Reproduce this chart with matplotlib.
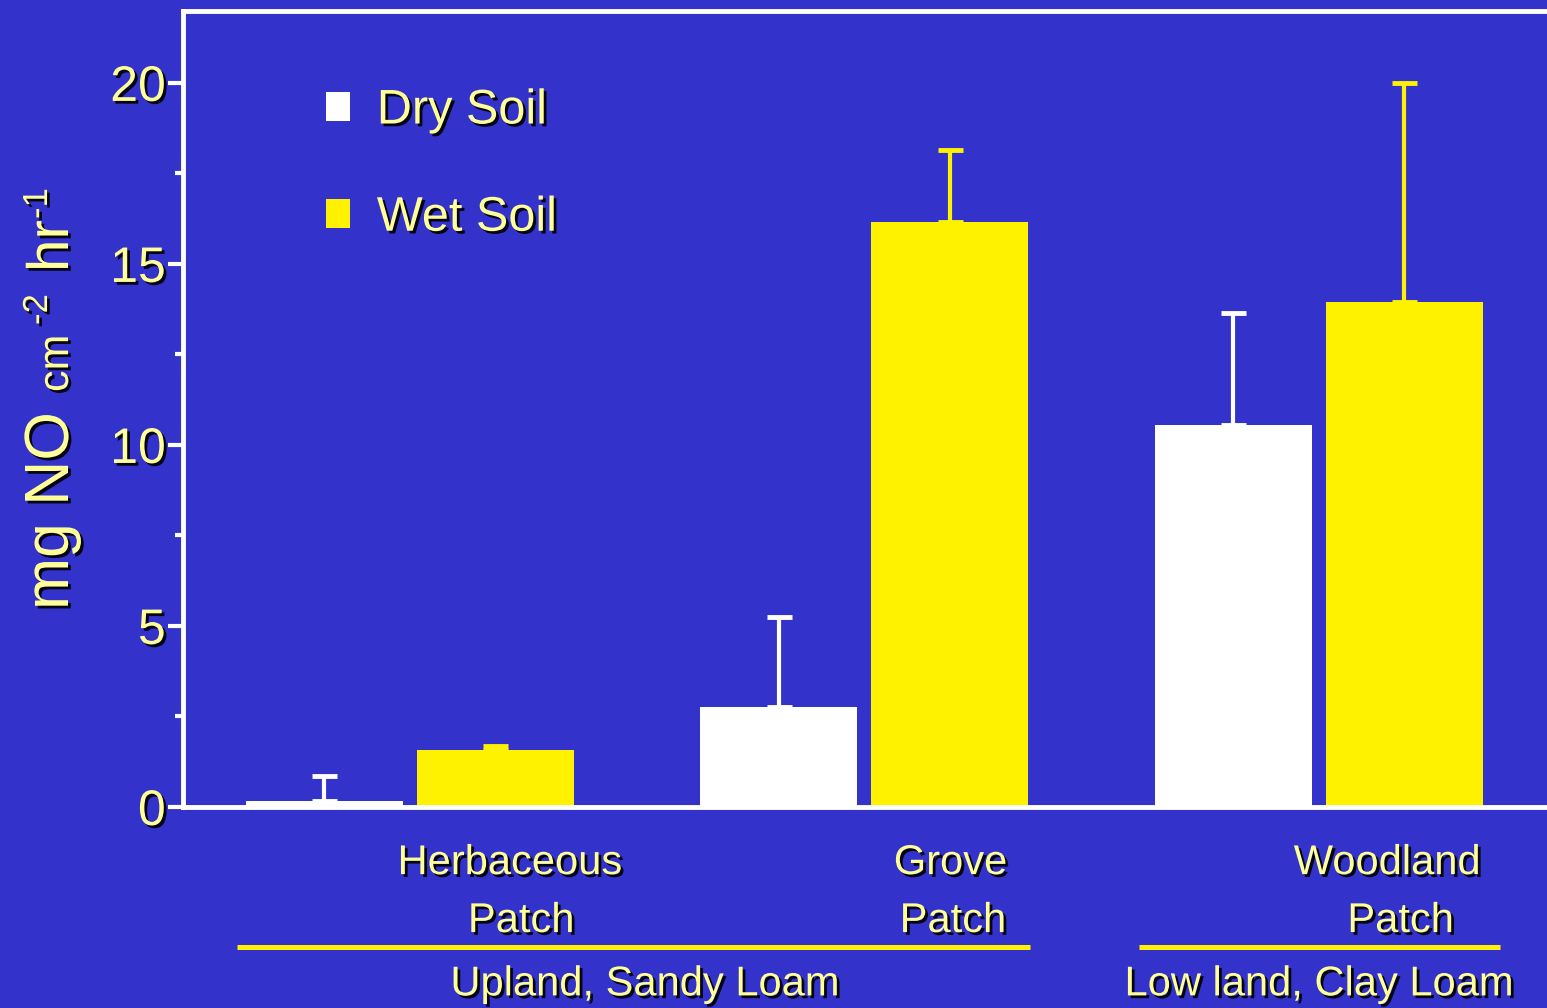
import matplotlib
matplotlib.use('Agg')
import matplotlib.pyplot as plt
import matplotlib.patheffects as pe
import numpy as np

plt.rcParams['font.family'] = ['Liberation Sans', 'DejaVu Sans']

# data
patches = ['Herbaceous\nPatch', 'Grove\nPatch', 'Woodland\nPatch']
dry = [0.17, 2.76, 10.55]
dry_err = [0.69, 2.49, 3.10]
wet = [1.57, 16.16, 13.95]
wet_err = [0.11, 1.99, 6.05]
regions = ['Upland, Sandy Loam', 'Low land, Clay Loam']

bg = '#3333cc'
txt = '#ffff99'
yel = '#fff200'
shadow = [pe.SimplePatchShadow(offset=(2, -2), shadow_rgbFace='black', alpha=0.9), pe.Normal()]

fig = plt.figure(figsize=(15.47, 10.08), dpi=100, facecolor=bg)
ax = fig.add_axes([182.5 / 1547, (1008 - 807) / 1008, (1546 - 182.5) / 1547, 796.5 / 1008])
ax.set_facecolor(bg)

x = np.arange(len(patches))
w = 0.345
off = 0.188
ax.bar(x - off, dry, w, color='white', label='Dry Soil',
       yerr=[np.zeros(3), dry_err],
       error_kw=dict(ecolor='white', elinewidth=3, capsize=9, capthick=3.5))
ax.bar(x + off, wet, w, color=yel, label='Wet Soil',
       yerr=[np.zeros(3), wet_err],
       error_kw=dict(ecolor=yel, elinewidth=3, capsize=9, capthick=3.5))

ax.set_xlim(-0.5, 2.5)
ax.set_ylim(0, 22)
ax.set_xticks([])
ax.set_yticks([0, 5, 10, 15, 20])
ax.set_yticks([2.5, 7.5, 12.5, 17.5], minor=True)
ax.tick_params(axis='y', which='major', length=11, width=3, color='white',
               labelcolor=txt, labelsize=36, pad=1)
ax.tick_params(axis='y', which='minor', length=6, width=3, color='white')
for lab in ax.get_yticklabels():
    lab.set_path_effects(shadow)

for s in ['left', 'bottom', 'top']:
    ax.spines[s].set_color('white')
    ax.spines[s].set_linewidth(3.5)
ax.spines['right'].set_visible(False)

leg = ax.legend(loc='upper left', bbox_to_anchor=(0.073, 0.957), frameon=False,
                fontsize=35, handlelength=0.5, handleheight=0.55,
                labelspacing=1.28, handletextpad=0.55, labelcolor=txt)
for t in leg.get_texts():
    t.set_path_effects(shadow)

# category labels under the bars
top_x = [0.22, 1.19, 2.15]
bot_x = [0.245, 1.195, 2.18]
for i, name in enumerate(patches):
    a, b = name.split('\n')
    ax.text(top_x[i], -1.55, a, ha='center', va='center', fontsize=30, color=txt,
            clip_on=False, path_effects=shadow)
    ax.text(bot_x[i], -3.15, b, ha='center', va='center', fontsize=30, color=txt,
            clip_on=False, path_effects=shadow)

# region underlines and labels
ax.plot([-0.381, 1.364], [-3.87, -3.87], color=yel, lw=3.6, clip_on=False, solid_capstyle='butt')
ax.plot([1.605, 2.399], [-3.87, -3.87], color=yel, lw=3.6, clip_on=False, solid_capstyle='butt')
ax.text(0.517, -4.9, regions[0], ha='center', va='center', fontsize=30, color=txt,
        clip_on=False, path_effects=shadow)
ax.text(2.0, -4.9, regions[1], ha='center', va='center', fontsize=30, color=txt,
        clip_on=False, path_effects=shadow)

# y label built from pieces (mixed sizes)
W, H = 1547.0, 1008.0
pieces = [('mg NO', 68, 610, 45), ('cm', 68, 392, 31), ('-2', 47, 325, 25),
          ('hr', 68, 272, 42), ('-1', 47, 219, 25)]
for s, px, py, fs in pieces:
    fig.text(px / W, 1 - py / H, s, rotation=90, rotation_mode='anchor',
             ha='left', va='baseline', fontsize=fs, color=txt, path_effects=shadow)

fig.savefig('out.png', dpi=100, facecolor=bg)
